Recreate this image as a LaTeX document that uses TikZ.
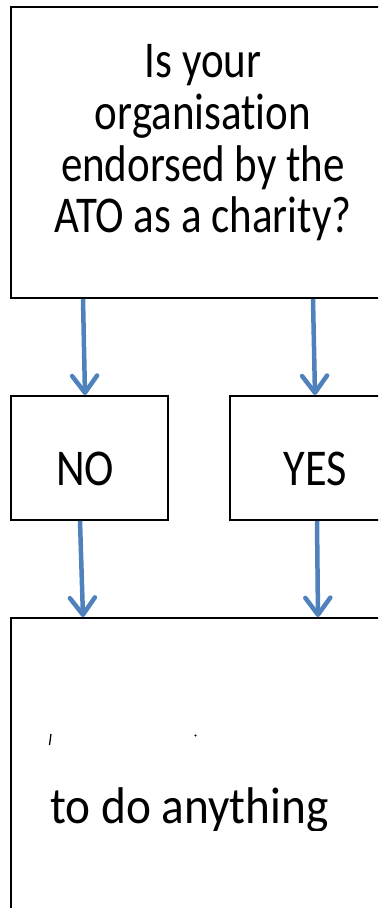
\documentclass[tikz,border=0pt]{standalone}
\usepackage{fontspec}
\setmainfont{Carlito}[Ligatures={NoCommon}]
\usetikzlibrary{arrows.meta}
\definecolor{arrowblue}{RGB}{79,129,189}
\begin{document}
\begin{tikzpicture}[x=1pt,y=-1pt,
  box/.style={draw=black, line width=2pt, rectangle, inner sep=0pt, anchor=north west},
  arr/.style={draw=arrowblue, line width=4.5pt, -{Straight Barb[length=17pt,width=25pt,round]}},
  lbl/.style={font=\fontsize{43}{43}\selectfont, inner sep=0pt, align=center},
  strayline/.style={line width=1.3pt}]
\useasboundingbox (0,0) rectangle (378,908);
\clip (0,0) rectangle (378,908);
% boxes
\node[box, minimum width=380pt, minimum height=291pt] (top) at (10,6) {};
\node[box, minimum width=157pt, minimum height=124pt] (no) at (10,395) {};
\node[box, minimum width=172pt, minimum height=124pt] (yes) at (229,395) {};
\node[box, minimum width=380pt, minimum height=320pt] (res) at (10,617) {};
% texts
\node[lbl] (qtext) at (203,145) {\scalebox{1}[1.2]{\renewcommand\arraystretch{1}\begin{tabular}{@{}c@{}}Is your\\organisation\\endorsed by the\\ATO as a charity?\end{tabular}}};
\node[lbl, anchor=base] (notext) at (85,485) {\scalebox{1.03}[1.2]{NO}};
\node[lbl, anchor=base] (yestext) at (315,485) {\scalebox{1.03}[1.2]{YES}};
\begin{scope}
  \clip (0,600) rectangle (378,830);
  \node[lbl, anchor=base west] (restext) at (50,823) {\scalebox{1.1}[1.2]{to do anything}};
\end{scope}
\coordinate (m1a) at (51,734);
\coordinate (m1b) at (49.5,745);
\coordinate (m2) at (195.5,735.5);
\draw[strayline] (m1a) -- (m1b);
\fill (m2) circle (1.2pt);
% arrows
\draw[arr] ([xshift=73pt]top.south west) -- ([xshift=75pt]no.north west);
\draw[arr] ([xshift=303pt]top.south west) -- ([xshift=86pt]yes.north west);
\draw[arr] ([xshift=70pt]no.south west) -- ([xshift=73pt]res.north west);
\draw[arr] ([xshift=88pt]yes.south west) -- ([xshift=308pt]res.north west);
\end{tikzpicture}
\end{document}
